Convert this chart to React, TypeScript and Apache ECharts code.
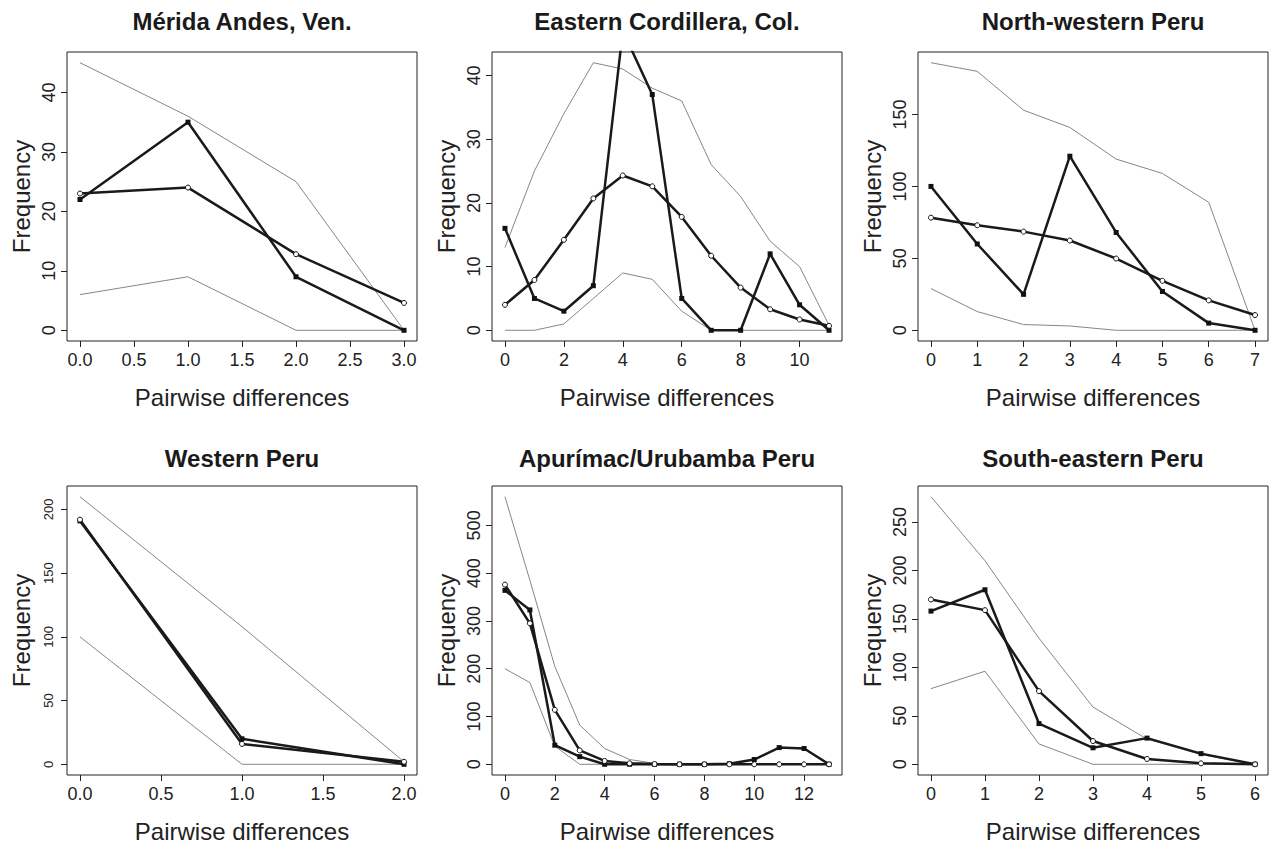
import React, { useEffect, useRef } from "react";
import * as echarts from "echarts";

// ---------- data ----------
const meridaX = [0, 1, 2, 3];
const meridaObserved = [22, 35, 9, 0];
const meridaExpected = [23, 24, 12.8, 4.6];
const meridaUpper = [45, 36, 25, 0];
const meridaLower = [6, 9, 0, 0];
const meridaXTicks = [0, 0.5, 1, 1.5, 2, 2.5, 3];
const meridaYTicks = [0, 10, 20, 30, 40];

const ecolX = [0, 1, 2, 3, 4, 5, 6, 7, 8, 9, 10, 11];
const ecolObserved = [16, 5, 3, 7, 47, 37, 5, 0, 0, 12, 4, 0];
const ecolExpected = [4, 7.9, 14.2, 20.7, 24.3, 22.6, 17.8, 11.7, 6.7, 3.3, 1.7, 0.7];
const ecolUpper = [13, 25, 34, 42, 41, 38, 36, 26, 21, 14, 10, 0.8];
const ecolLower = [0, 0, 1, 5, 9, 8, 3, 0, 0, 0, 0, 0];
const ecolXTicks = [0, 2, 4, 6, 8, 10];
const ecolYTicks = [0, 10, 20, 30, 40];

const nwpX = [0, 1, 2, 3, 4, 5, 6, 7];
const nwpObserved = [100, 60, 25, 121, 68, 27, 5, 0];
const nwpExpected = [78.3, 73, 68.6, 62.4, 49.9, 34.4, 20.8, 10.6];
const nwpUpper = [186, 180, 153, 141, 119, 109, 89, 0];
const nwpLower = [29, 13, 4, 3, 0, 0, 0, 0];
const nwpXTicks = [0, 1, 2, 3, 4, 5, 6, 7];
const nwpYTicks = [0, 50, 100, 150];

const wpX = [0, 1, 2];
const wpObserved = [191, 20, 0];
const wpExpected = [192, 16, 2];
const wpUpper = [210, 108, 2];
const wpLower = [100, 0, 0];
const wpXTicks = [0, 0.5, 1, 1.5, 2];
const wpYTicks = [0, 50, 100, 150, 200];

const apuX = [0, 1, 2, 3, 4, 5, 6, 7, 8, 9, 10, 11, 12, 13];
const apuObserved = [364, 323, 40, 16, 0, 0, 0, 0, 0, 1, 10, 35, 33, 0];
const apuExpected = [376, 295, 114, 29, 7, 2, 0.5, 0, 0, 0, 0, 0, 0, 0];
const apuUpper = [560, 385, 205, 82, 33, 10, 2, 0, 0, 0, 0, 0, 0, 0];
const apuLower = [200, 171, 38, 0, 0, 0, 0, 0, 0, 0, 0, 0, 0, 0];
const apuXTicks = [0, 2, 4, 6, 8, 10, 12];
const apuYTicks = [0, 100, 200, 300, 400, 500];

const sepX = [0, 1, 2, 3, 4, 5, 6];
const sepObserved = [158, 180, 42, 17, 27, 11, 0];
const sepExpected = [170, 159, 75.5, 24, 5.5, 1, 0];
const sepUpper = [276, 210, 130, 59, 26, 10, 0];
const sepLower = [78, 96, 21, 0, 0, 0, 0];
const sepXTicks = [0, 1, 2, 3, 4, 5, 6];
const sepYTicks = [0, 50, 100, 150, 200, 250];

const titles = [
  "Mérida Andes, Ven.",
  "Eastern Cordillera, Col.",
  "North-western Peru",
  "Western Peru",
  "Apurímac/Urubamba Peru",
  "South-eastern Peru",
];

// ---------- layout ----------
const FONT = "'Liberation Sans', Arial, Helvetica, sans-serif";
const COL_LEFT = [67, 492, 918];
const ROW_TOP = [52, 486];
const BOX_W = 350;
const BOX_H = 289;
const TITLE_Y = [21.6, 458.3];

type Panel = {
  title: string;
  x: number[];
  obs: number[];
  exp: number[];
  up: number[];
  lo: number[];
  xTicks: number[];
  yTicks: number[];
  yMaxData?: number;
  decimals: boolean;
  yLabelSize: number;
};

const panels: Panel[] = [
  { title: titles[0], x: meridaX, obs: meridaObserved, exp: meridaExpected, up: meridaUpper, lo: meridaLower, xTicks: meridaXTicks, yTicks: meridaYTicks, decimals: true, yLabelSize: 18 },
  { title: titles[1], x: ecolX, obs: ecolObserved, exp: ecolExpected, up: ecolUpper, lo: ecolLower, xTicks: ecolXTicks, yTicks: ecolYTicks, yMaxData: 42, decimals: false, yLabelSize: 18 },
  { title: titles[2], x: nwpX, obs: nwpObserved, exp: nwpExpected, up: nwpUpper, lo: nwpLower, xTicks: nwpXTicks, yTicks: nwpYTicks, decimals: false, yLabelSize: 18 },
  { title: titles[3], x: wpX, obs: wpObserved, exp: wpExpected, up: wpUpper, lo: wpLower, xTicks: wpXTicks, yTicks: wpYTicks, decimals: true, yLabelSize: 13 },
  { title: titles[4], x: apuX, obs: apuObserved, exp: apuExpected, up: apuUpper, lo: apuLower, xTicks: apuXTicks, yTicks: apuYTicks, decimals: false, yLabelSize: 18 },
  { title: titles[5], x: sepX, obs: sepObserved, exp: sepExpected, up: sepUpper, lo: sepLower, xTicks: sepXTicks, yTicks: sepYTicks, decimals: false, yLabelSize: 18 },
];

function buildOption() {
  const grid: any[] = [];
  const xAxis: any[] = [];
  const yAxis: any[] = [];
  const series: any[] = [];
  const graphic: any[] = [];

  panels.forEach((p, i) => {
    const col = i % 3;
    const row = Math.floor(i / 3);
    const left = COL_LEFT[col];
    const top = ROW_TOP[row];
    grid.push({
      left,
      top,
      width: BOX_W,
      height: BOX_H,
      show: true,
      borderColor: "#222",
      borderWidth: 1,
      backgroundColor: "transparent",
      containLabel: false,
    });
    const xMinD = Math.min(...p.x);
    const xMaxD = Math.max(...p.x);
    const xr = (xMaxD - xMinD) * 0.04;
    const allY = [...p.obs, ...p.exp, ...p.up, ...p.lo];
    const yMinD = 0;
    const yMaxD = p.yMaxData != null ? p.yMaxData : Math.max(...allY);
    const yr = (yMaxD - yMinD) * 0.04;

    xAxis.push({
      type: "value",
      gridIndex: i,
      min: xMinD - xr,
      max: xMaxD + xr,
      axisLine: { show: false, onZero: false },
      splitLine: { show: false },
      axisTick: {
        show: true,
        inside: false,
        length: 6,
        lineStyle: { color: "#222", width: 1 },
        customValues: p.xTicks,
      },
      axisLabel: {
        show: true,
        margin: 10,
        fontSize: 18,
        color: "#222",
        fontFamily: FONT,
        customValues: p.xTicks,
        formatter: (v: number) => (p.decimals ? v.toFixed(1) : String(v)),
      },
      name: "Pairwise differences",
      nameLocation: "middle",
      nameGap: 44,
      nameTextStyle: { fontSize: 24, color: "#222", fontFamily: FONT },
    });
    yAxis.push({
      type: "value",
      gridIndex: i,
      min: yMinD - yr,
      max: yMaxD + yr,
      axisLine: { show: false, onZero: false },
      splitLine: { show: false },
      axisTick: {
        show: true,
        inside: false,
        length: 6,
        lineStyle: { color: "#222", width: 1 },
        customValues: p.yTicks,
      },
      axisLabel: {
        show: true,
        rotate: 90,
        margin: p.yLabelSize < 16 ? 12 : 9,
        fontSize: p.yLabelSize,
        color: "#222",
        fontFamily: FONT,
        customValues: p.yTicks,
      },
      name: "Frequency",
      nameLocation: "middle",
      nameGap: 34,
      nameTextStyle: { fontSize: 24, color: "#222", fontFamily: FONT },
    });

    const pts = (arr: number[]) => p.x.map((xv, k) => [xv, arr[k]]);
    series.push({
      type: "line",
      xAxisIndex: i,
      yAxisIndex: i,
      data: pts(p.up),
      symbol: "none",
      lineStyle: { color: "#868686", width: 1 },
      clip: true,
      z: 2,
    });
    series.push({
      type: "line",
      xAxisIndex: i,
      yAxisIndex: i,
      data: pts(p.lo),
      symbol: "none",
      lineStyle: { color: "#868686", width: 1 },
      clip: true,
      z: 2,
    });
    series.push({
      type: "line",
      xAxisIndex: i,
      yAxisIndex: i,
      data: pts(p.obs),
      symbol: "rect",
      symbolSize: 5,
      showAllSymbol: true,
      itemStyle: { color: "#111" },
      lineStyle: { color: "#1a1a1a", width: 2.5 },
      clip: true,
      z: 3,
    });
    series.push({
      type: "line",
      xAxisIndex: i,
      yAxisIndex: i,
      data: pts(p.exp),
      symbol: "circle",
      symbolSize: 5,
      showAllSymbol: true,
      itemStyle: { color: "#fff", borderColor: "#111", borderWidth: 1 },
      lineStyle: { color: "#1a1a1a", width: 2.5 },
      clip: true,
      z: 4,
    });

    graphic.push({
      type: "text",
      x: left + BOX_W / 2,
      y: TITLE_Y[row],
      style: {
        text: p.title,
        font: `bold 24px ${FONT}`,
        fill: "#1a1a1a",
        textAlign: "center",
        textVerticalAlign: "middle",
      },
    });
  });

  return {
    animation: false,
    backgroundColor: "#fff",
    textStyle: { fontFamily: FONT },
    grid,
    xAxis,
    yAxis,
    series,
    graphic,
  };
}

export default function App() {
  const ref = useRef<HTMLDivElement>(null);
  useEffect(() => {
    if (!ref.current) return;
    const chart = echarts.init(ref.current, undefined, { renderer: "svg" });
    chart.setOption(buildOption() as any);
    return () => chart.dispose();
  }, []);
  return (
    <div
      ref={ref}
      style={{ position: "fixed", left: 0, top: 0, width: 1269, height: 848, background: "#fff" }}
    />
  );
}
